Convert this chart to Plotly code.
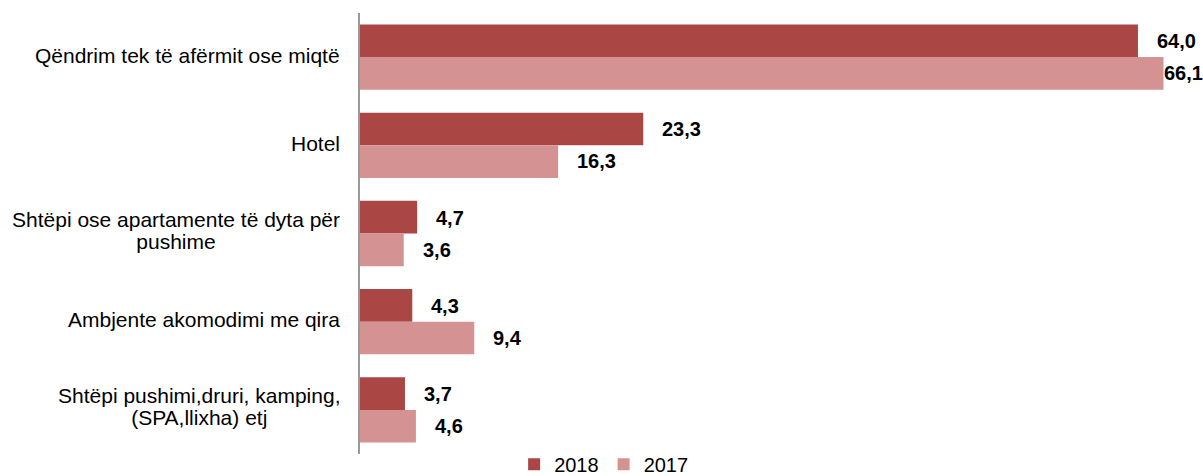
import plotly.graph_objects as go

categories = [
    "Qëndrim tek të afërmit ose miqtë",
    "Hotel",
    "Shtëpi ose apartamente të dyta për<br>pushime",
    "Ambjente akomodimi me qira",
    "Shtëpi pushimi,druri, kamping,<br>(SPA,llixha) etj",
]
v2018 = [64.0, 23.3, 4.7, 4.3, 3.7]
v2017 = [66.1, 16.3, 3.6, 9.4, 4.6]
series_names = ["2018", "2017"]
colors = ["#AA4744", "#D49392"]

W, H = 1203, 476
ML, MR, MT, MB = 360, 0, 13, 22
XMAX = 69.35
FONT = "Liberation Sans, Arial, sans-serif"

fig = go.Figure()
for name, vals, col in zip(series_names, [v2018, v2017], colors):
    fig.add_trace(go.Bar(
        y=categories, x=vals, name=name, orientation="h",
        marker=dict(color=col, line=dict(width=0)),
        hoverinfo="x+name",
    ))

def fmt(v):
    return f"{v:.1f}".replace(".", ",")

plot_w = W - ML - MR
annotations = []
for vals, ysh in [(v2018, 16), (v2017, -16)]:
    for cat, v in zip(categories, vals):
        end_px = ML + v / XMAX * plot_w
        txt_w = 41
        shift = min(17, W - txt_w - end_px)
        annotations.append(dict(
            x=v, y=cat, xref="x", yref="y", text=f"<b>{fmt(v)}</b>",
            showarrow=False, xanchor="left", yanchor="middle",
            xshift=shift, yshift=ysh,
            font=dict(family=FONT, size=20, color="#000000"),
        ))

for cat in categories:
    lines = cat.split("<br>")
    if len(lines) == 1:
        annotations.append(dict(
            x=0, y=cat, xref="paper", yref="y", text=cat,
            showarrow=False, xanchor="right", yanchor="middle",
            xshift=-18, yshift=2,
            font=dict(family=FONT, size=21, color="#000000"),
        ))
    else:
        txt = "<br>".join(f"<span style='font-size:21px'>{l}</span>" for l in lines)
        annotations.append(dict(
            x=0, y=cat, xref="paper", yref="y", text=txt,
            showarrow=False, xanchor="right", yanchor="middle", align="center",
            xshift=-18, yshift=3.5,
            font=dict(family=FONT, size=17.3, color="#000000"),
        ))

fig.update_layout(
    width=W, height=H,
    margin=dict(l=ML, r=MR, t=MT, b=MB, pad=0, autoexpand=False),
    paper_bgcolor="white", plot_bgcolor="white",
    barmode="group", bargap=0.26, bargroupgap=0,
    font=dict(family=FONT, size=20, color="#000000"),
    xaxis=dict(range=[0, XMAX], visible=False, showgrid=False, zeroline=False, fixedrange=True),
    yaxis=dict(type="category", autorange="reversed", showticklabels=False,
               showline=True, linecolor="#9A9A9A", linewidth=2, ticks="",
               showgrid=False, zeroline=False),
    legend=dict(orientation="h", x=0.289, xanchor="center", y=-0.023, yanchor="middle",
                font=dict(family=FONT, size=20, color="#000000"),
                bgcolor="rgba(0,0,0,0)", itemwidth=30, tracegroupgap=0),
    annotations=annotations,
    showlegend=True,
)

fig.write_html("out.html", config={"displayModeBar": False},
               post_script="document.body.style.margin='0';document.body.style.overflow='hidden';")
